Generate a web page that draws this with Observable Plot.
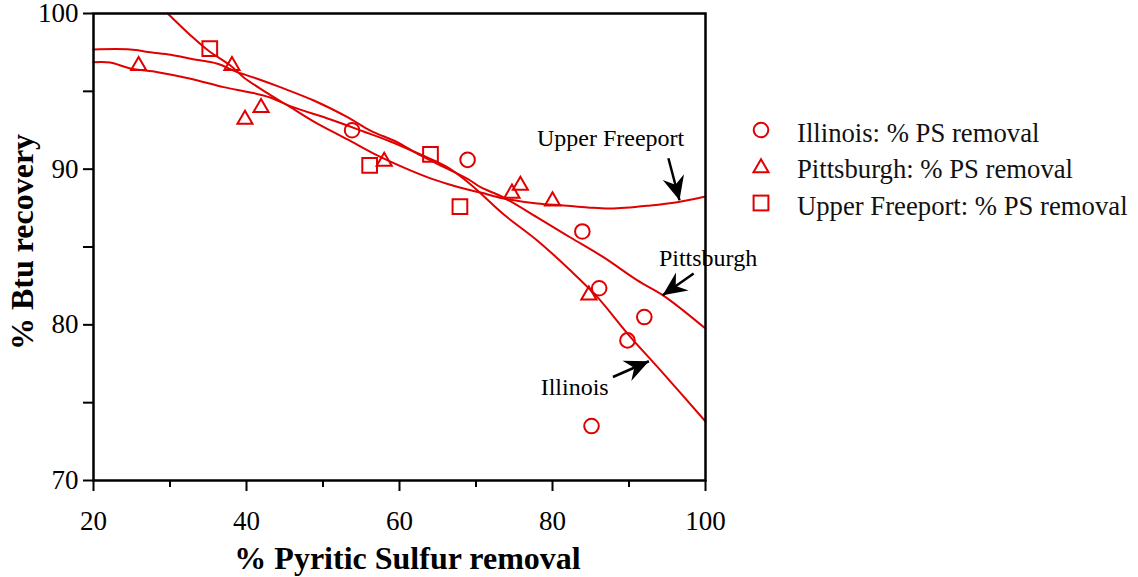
<!DOCTYPE html>
<html>
<head>
<meta charset="utf-8">
<script src="https://cdn.jsdelivr.net/npm/d3@7"></script>
<script src="https://cdn.jsdelivr.net/npm/@observablehq/plot@0.6"></script>
<style>
  html, body { margin: 0; padding: 0; background: #fff; }
  #wrap { position: relative; width: 1138px; height: 577px; font-family: "Liberation Serif", "Times New Roman", serif; }
  #legend { position: absolute; left: 750px; top: 112px; }
  .row { display: flex; align-items: center; height: 36.5px; }
  .row svg { width: 22px; height: 22px; flex: none; }
  .row span { margin-left: 25px; font-size: 26.7px; color: #111; position: relative; top: 3px; white-space: nowrap; }
</style>
</head>
<body>
<div id="wrap"></div>
<script>
// ---- data ----
const red = "#e00000";

// measured points: [x = % pyritic sulfur removal, y = % Btu recovery]
const illinoisX = [53.8, 68.9, 83.9, 86.1, 92.0, 89.8, 85.1];
const illinoisY = [92.5, 90.6, 86.0, 82.35, 80.5, 79.0, 73.5];

const pittsburghX = [25.9, 38.1, 41.9, 39.8, 58.0, 74.7, 75.8, 80.0, 84.75];
const pittsburghY = [96.65, 96.65, 93.95, 93.2, 90.5, 88.45, 88.95, 87.95, 81.9];

const freeportX = [35.2, 56.1, 64.05, 67.9];
const freeportY = [97.75, 90.25, 90.95, 87.6];

// fitted curves
const illinoisCurveX = [20, 22.2, 24.8, 28.4, 32.7, 37.0, 40.5, 43.1, 45.8, 51.0, 55.3, 58.8, 62.75, 66.3, 69.3, 73.6, 78.0, 82.35, 85.9, 89.8, 94.5, 100];
const illinoisCurveY = [96.87, 96.85, 96.47, 96.23, 95.81, 95.27, 94.93, 94.6, 94.03, 93.19, 92.42, 91.78, 90.94, 90.11, 89.02, 87.1, 85.42, 83.49, 81.76, 79.44, 76.87, 73.79];

const pittsburghCurveX = [20, 24.8, 27.45, 30.1, 32.7, 36.2, 38.8, 41.4, 44.4, 48.8, 53.2, 56.2, 59.7, 62.75, 66.3, 68.9, 70.6, 73.6, 78.0, 82.35, 86.7, 91.1, 94.5, 100];
const pittsburghCurveY = [97.69, 97.69, 97.51, 97.35, 97.09, 96.77, 96.23, 95.81, 95.27, 94.41, 93.34, 92.48, 91.73, 90.88, 90.02, 89.38, 88.84, 88.18, 86.9, 85.61, 84.33, 82.85, 81.88, 79.76];

const freeportCurveX = [29.7, 32.7, 35.0, 37.9, 39.6, 42.2, 45.75, 48.8, 53.2, 57.1, 60.5, 63.7, 66.3, 68.9, 70.6, 73.6, 78.0, 81.4, 84.6, 87.6, 92.8, 96.3, 100];
const freeportCurveY = [100, 98.59, 97.62, 96.66, 95.91, 95.05, 93.98, 93.06, 91.91, 90.88, 90.11, 89.47, 89.05, 88.69, 88.5, 88.12, 87.79, 87.67, 87.54, 87.47, 87.67, 87.88, 88.24];

// tick values
const xMajorTicks = [20, 40, 60, 80, 100];
const xMinorTicks = [30, 50, 70, 90];
const yMajorTicks = [70, 80, 90, 100];
const yMinorTicks = [75, 85, 95];

// annotations (data units)
const labelText = ["Upper Freeport", "Pittsburgh", "Illinois"];
const labelX = [87.6, 100.33, 82.9];
const labelY = [92.0, 84.3, 75.96];
const arrowX1 = [95.15, 98.45, 87.9];
const arrowY1 = [90.7, 83.3, 76.65];
const arrowX2 = [96.6, 94.4, 92.6];
const arrowY2 = [88.0, 81.9, 77.66];

const legendLabels = ["Illinois: % PS removal", "Pittsburgh: % PS removal", "Upper Freeport: % PS removal"];

// ---- build tables ----
const zip = (xs, ys) => xs.map((x, i) => ({x, y: ys[i]}));
const illinois = zip(illinoisX, illinoisY);
const pittsburgh = zip(pittsburghX, pittsburghY);
const freeport = zip(freeportX, freeportY);
const curves = [
  ...zip(illinoisCurveX, illinoisCurveY).map(d => ({...d, s: "Illinois"})),
  ...zip(pittsburghCurveX, pittsburghCurveY).map(d => ({...d, s: "Pittsburgh"})),
  ...zip(freeportCurveX, freeportCurveY).map(d => ({...d, s: "Upper Freeport"}))
];
const labels = labelText.map((t, i) => ({t, x: labelX[i], y: labelY[i]}));
const arrows = arrowX1.map((x1, i) => ({x1, y1: arrowY1[i], x2: arrowX2[i], y2: arrowY2[i]}));

// filled notched arrow head marker
function arrowHead(color, context) {
  const m = d3.create("svg:marker")
    .attr("viewBox", "-24 -12 26 24")
    .attr("markerWidth", 26)
    .attr("markerHeight", 24)
    .attr("markerUnits", "userSpaceOnUse")
    .attr("refX", 0)
    .attr("refY", 0)
    .attr("orient", "auto");
  m.append("path").attr("d", "M0,0L-24,-11L-16,0L-24,11Z").attr("fill", "black").attr("stroke", "none");
  return m.node();
}

const font = "Liberation Serif, Times New Roman, serif";

const plot = Plot.plot({
  width: 1138,
  height: 577,
  marginLeft: 93,
  marginRight: 433,
  marginTop: 13,
  marginBottom: 97,
  style: {fontFamily: font, fontSize: "27px", color: "black", background: "white", overflow: "visible"},
  x: {domain: [20, 100], label: null},
  y: {domain: [70, 100], label: null},
  marks: [
    Plot.axisX({ticks: xMajorTicks, tickSize: 11, tickPadding: 19, strokeWidth: 2, label: null, tickFormat: d => String(d)}),
    Plot.axisX({ticks: xMinorTicks, tickSize: 7, strokeWidth: 2, label: null, tickFormat: () => ""}),
    Plot.axisY({ticks: yMajorTicks, tickSize: 10, tickPadding: 5, strokeWidth: 2, label: null, tickFormat: d => String(d)}),
    Plot.axisY({ticks: yMinorTicks, tickSize: 10, strokeWidth: 2, label: null, tickFormat: () => ""}),
    Plot.line(curves, {x: "x", y: "y", z: "s", stroke: red, strokeWidth: 2, curve: "catmull-rom"}),
    Plot.dot(illinois, {x: "x", y: "y", symbol: "circle", r: 7.3, stroke: red, strokeWidth: 2, fill: "none"}),
    Plot.dot(pittsburgh, {x: "x", y: "y", symbol: "triangle", r: 5.6, stroke: red, strokeWidth: 2, fill: "none"}),
    Plot.dot(freeport, {x: "x", y: "y", symbol: "square", r: 8.3, stroke: red, strokeWidth: 2, fill: "none"}),
    Plot.frame({stroke: "black", strokeWidth: 2.5}),
    Plot.text(labels, {x: "x", y: "y", text: "t", fontSize: 24, fill: "black", fontFamily: font}),
    Plot.link(arrows, {x1: "x1", y1: "y1", x2: "x2", y2: "y2", stroke: "black", strokeWidth: 2.5, markerEnd: arrowHead}),
    Plot.text(["% Pyritic Sulfur removal"], {frameAnchor: "bottom", textAnchor: "middle", lineAnchor: "middle", dx: 8, dy: 78, fontSize: 32, fontWeight: "bold", fill: "black", fontFamily: font}),
    Plot.text(["% Btu recovery"], {frameAnchor: "left", textAnchor: "middle", lineAnchor: "middle", dx: -71, dy: -5, rotate: -90, fontSize: 32, fontWeight: "bold", fill: "black", fontFamily: font})
  ]
});

const wrap = document.getElementById("wrap");
wrap.appendChild(plot);

// legend (HTML overlay to the right of the plot frame)
const symbols = [
  '<circle cx="11" cy="11" r="7.3" fill="none" stroke="' + red + '" stroke-width="2"/>',
  '<path d="' + d3.symbol(d3.symbolTriangle, Math.PI * 5.6 * 5.6)() + '" transform="translate(11,12)" fill="none" stroke="' + red + '" stroke-width="2"/>',
  '<rect x="3.6" y="3.6" width="14.8" height="14.8" fill="none" stroke="' + red + '" stroke-width="2"/>'
];
const legend = document.createElement("div");
legend.id = "legend";
legend.innerHTML = legendLabels.map((t, i) =>
  '<div class="row"><svg viewBox="0 0 22 22">' + symbols[i] + '</svg><span>' + t + '</span></div>'
).join("");
wrap.appendChild(legend);
</script>
</body>
</html>
